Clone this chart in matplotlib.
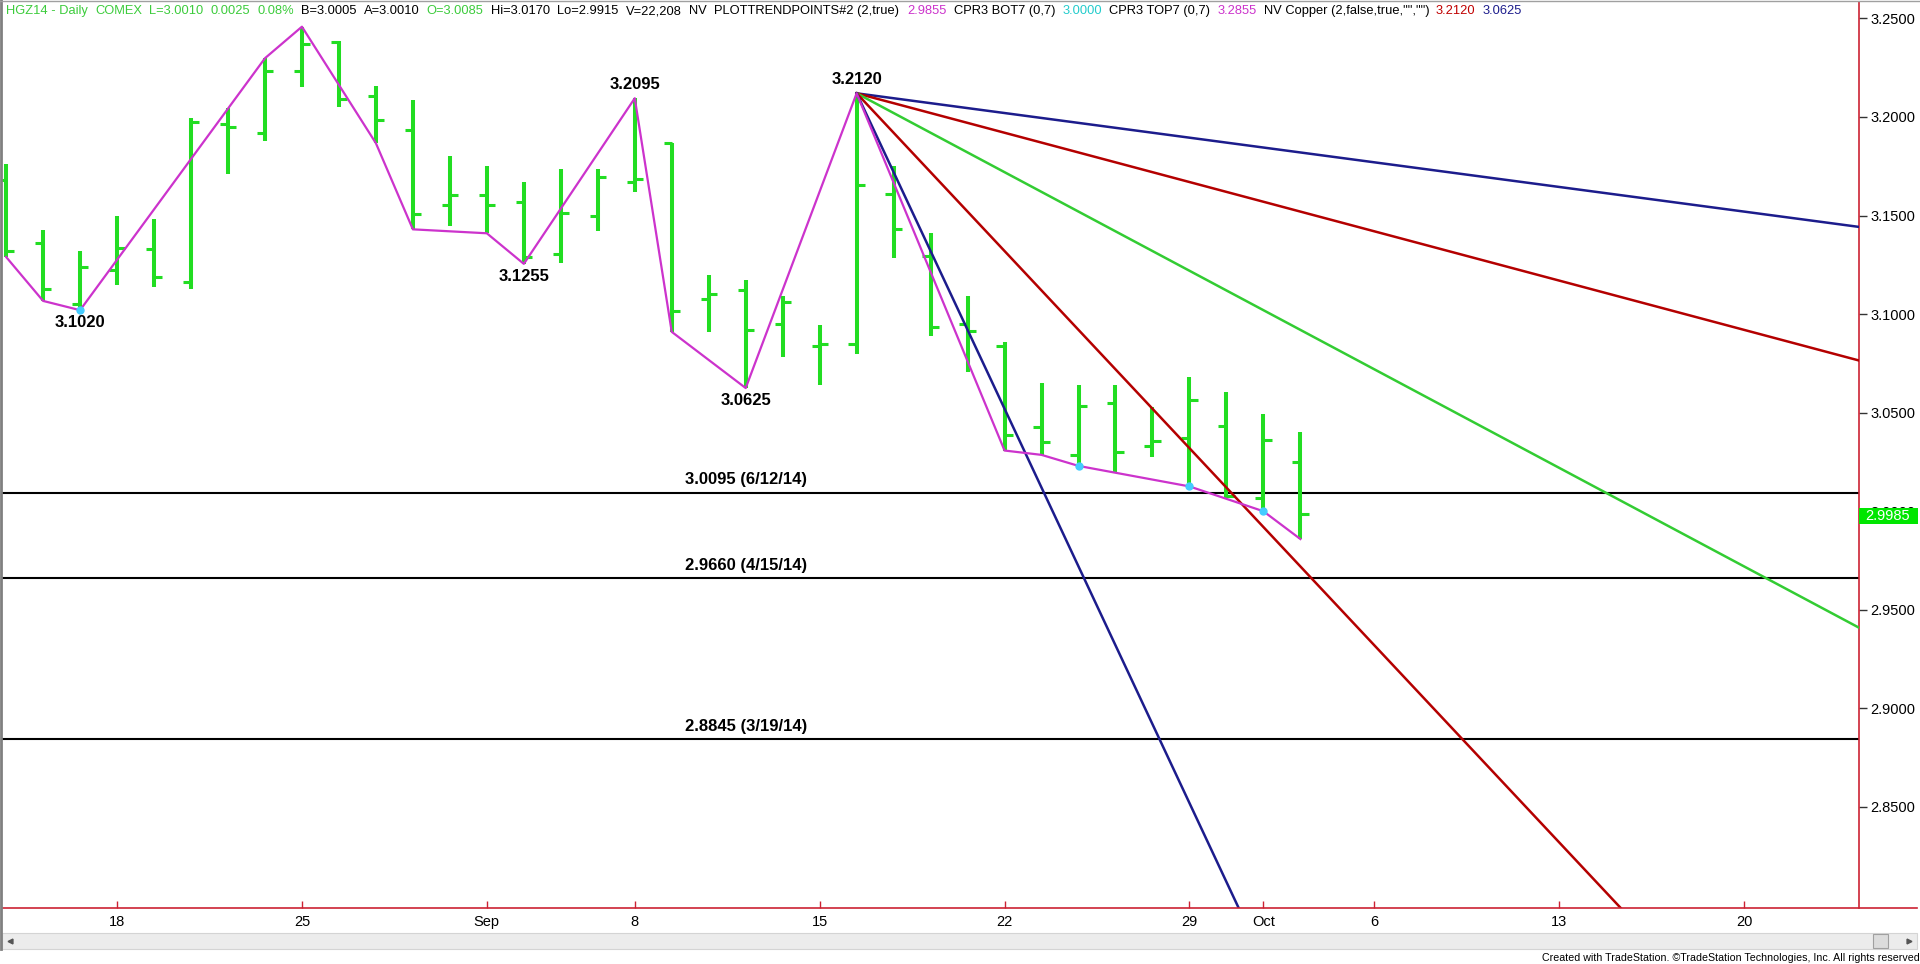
import matplotlib
matplotlib.use('Agg')
import matplotlib.pyplot as plt
from matplotlib.patches import Rectangle
from matplotlib.lines import Line2D
from matplotlib import font_manager

plt.rcParams['font.family'] = ['Liberation Sans', 'DejaVu Sans']

W, H = 1920, 964

# daily bars, Aug 13 .. Oct 2 (index = trading day)
bar_idx = list(range(36))
opens = [3.168, 3.136, 3.105, 3.1223, 3.133, 3.1164, 3.1963, 3.192, 3.2233, 3.2382,
         3.2108, 3.1934, 3.1553, 3.1605, 3.1568, 3.1305, 3.1498, 3.1672, 3.1869, 3.1075,
         3.112, 3.0948, 3.084, 3.0846, 3.161, 3.1296, 3.095, 3.0838, 3.0427, 3.0286,
         3.0549, 3.0332, 3.0374, 3.0433, 3.0067, 3.025]
highs = [3.176, 3.1426, 3.132, 3.1497, 3.148, 3.1993, 3.2044, 3.2298, 3.2458, 3.2387,
         3.2157, 3.2086, 3.1802, 3.1751, 3.1669, 3.1735, 3.1735, 3.2095, 3.1869, 3.1197,
         3.1172, 3.1092, 3.0943, 3.2120, 3.175, 3.141, 3.1092, 3.086, 3.065, 3.0641,
         3.0641, 3.0531, 3.068, 3.0604, 3.0493, 3.0402]
lows = [3.129, 3.1067, 3.1020, 3.115, 3.1135, 3.1125, 3.171, 3.1878, 3.215, 3.2049,
        3.1867, 3.143, 3.1447, 3.141, 3.1255, 3.126, 3.1422, 3.1618, 3.091, 3.091,
        3.0625, 3.0781, 3.0639, 3.0798, 3.1287, 3.0888, 3.0704, 3.0308, 3.0286, 3.023,
        3.0197, 3.0275, 3.0126, 3.0067, 3.000, 2.9859]
closes = [3.132, 3.1127, 3.124, 3.1333, 3.1186, 3.1973, 3.1948, 3.2233, 3.237, 3.209,
          3.1985, 3.1508, 3.1604, 3.1554, 3.129, 3.1515, 3.1694, 3.1685, 3.1016, 3.110,
          3.0917, 3.1063, 3.0846, 3.1656, 3.1432, 3.0934, 3.0915, 3.0388, 3.035, 3.0535,
          3.030, 3.0354, 3.0565, 3.0075, 3.0363, 2.9985]

# swing line
zz_idx = [0, 1, 2, 7, 8, 10, 11, 13, 14, 17, 18, 20, 23, 27, 28, 29, 32, 34, 35]
zz_price = [3.129, 3.1067, 3.1020, 3.2298, 3.2458, 3.1867, 3.143, 3.141, 3.1255, 3.2095,
            3.091, 3.0625, 3.2120, 3.0308, 3.0286, 3.023, 3.0126, 3.000, 2.9859]
dot_idx = [2, 29, 32, 34]
dot_price = [3.1020, 3.023, 3.0126, 3.000]

pivot_idx = [2, 14, 17, 20, 23]
pivot_price = [3.1020, 3.1255, 3.2095, 3.0625, 3.2120]
pivot_up = [False, False, True, False, True]

level_price = [3.0095, 2.9660, 2.8845]
level_label = ['3.0095 (6/12/14)', '2.9660 (4/15/14)', '2.8845 (3/19/14)']
level_label_idx = 20

# angle lines out of the Sep 16 top (price change per bar)
fan_start_idx = 23
fan_start_price = 3.2120
fan_slopes = [-0.0025, -0.005, -0.01, -0.02, -0.04]
fan_colors = ['#1c1c8c', '#b40000', '#33cc33', '#b40000', '#1c1c8c']

xtick_idx = [3, 8, 13, 17, 22, 27, 32, 34, 37, 42, 47]
xtick_lab = ['18', '25', 'Sep', '8', '15', '22', '29', 'Oct', '6', '13', '20']
yticks = [2.85, 2.90, 2.95, 3.00, 3.05, 3.10, 3.15, 3.20, 3.25]
last_price = 2.9985

hdr_text = ['HGZ14 - Daily', 'COMEX', 'L=3.0010', '0.0025', '0.08%', 'B=3.0005', 'A=3.0010',
            'O=3.0085', 'Hi=3.0170', 'Lo=2.9915', 'V=22,208', 'NV', 'PLOTTRENDPOINTS#2 (2,true)',
            '2.9855', 'CPR3 BOT7 (0,7)', '3.0000', 'CPR3 TOP7 (0,7)', '3.2855',
            'NV Copper (2,false,true,"","")', '3.2120', '3.0625']
hdr_color = ['#3ccc3c'] * 5 + ['black', 'black', '#3ccc3c'] + ['black'] * 5 + \
            ['#cc33cc', 'black', '#22cccc', 'black', '#cc33cc', 'black', '#c00000', '#1c1c8c']
footer = 'Created with TradeStation. \u00a9TradeStation Technologies, Inc. All rights reserved.'

BAR_GREEN = '#22dd22'
AXIS_RED = '#cc2233'

installed = {f.name for f in font_manager.fontManager.ttflist}
narrow = 'Liberation Sans Narrow' if 'Liberation Sans Narrow' in installed else 'Liberation Sans'


def fx(px):
    return px / W


def fy(py):
    return 1 - py / H


def fit_row(fig, texts, colors, x0, x1, y, gap, size):
    # lay text pieces out one after another, shrink the font until the row fits
    rend = fig.canvas.get_renderer()
    arts = [fig.text(0, fy(y), t, color=c, fontsize=size, family=narrow, ha='left', va='center')
            for t, c in zip(texts, colors)]
    widths = [a.get_window_extent(rend).width for a in arts]
    room = (x1 - x0) - gap * (len(texts) - 1)
    k = min(1.0, room / sum(widths))
    x = x0
    for a, w in zip(arts, widths):
        a.set_fontsize(size * k)
        a.set_x(fx(x))
        x += w * k + gap


fig = plt.figure(figsize=(19.2, 9.64), dpi=100)
fig.patch.set_facecolor('white')

ax = fig.add_axes([fx(2), fy(908), fx(1859) - fx(2), fy(2) - fy(908)])
ax.set_xlim(-0.111, 50.106)
ax.set_ylim(2.79875, 3.25832)

# horizontal levels
for p, lab in zip(level_price, level_label):
    ax.axhline(p, color='black', lw=1.5, zorder=2)
    ax.annotate(lab, (level_label_idx, p), xytext=(0, 9.2), textcoords='offset points',
                ha='center', va='center', fontsize=12, fontweight='bold')

# OHLC bars
tk = 0.22
ax.vlines(bar_idx, lows, highs, color=BAR_GREEN, lw=2.9, zorder=3)
ax.hlines(opens, [i - tk for i in bar_idx], bar_idx, color=BAR_GREEN, lw=2.2, zorder=3)
ax.hlines(closes, bar_idx, [i + tk for i in bar_idx], color=BAR_GREEN, lw=2.2, zorder=3)

# fan lines
x_end = 51
for s, c in zip(fan_slopes, fan_colors):
    ax.plot([fan_start_idx, x_end], [fan_start_price, fan_start_price + s * (x_end - fan_start_idx)],
            color=c, lw=1.8, zorder=4)

ax.plot(zz_idx, zz_price, color='#cc33cc', lw=1.6, zorder=5)
ax.plot(dot_idx, dot_price, 'o', color='#44ccff', markersize=5, zorder=6)

for i, p, up in zip(pivot_idx, pivot_price, pivot_up):
    off = 10 if up else -9
    ax.annotate('%.4f' % p, (i, p), xytext=(0, off), textcoords='offset points',
                ha='center', va='center', fontsize=12, fontweight='bold')

# axes cosmetics
for side in ['left', 'top', 'bottom']:
    ax.spines[side].set_visible(False)
ax.spines['right'].set_color(AXIS_RED)
ax.spines['right'].set_linewidth(1.2)
ax.yaxis.tick_right()
ax.set_yticks(yticks)
ax.set_yticklabels(['%.4f' % v for v in yticks])
ax.tick_params(axis='y', direction='out', length=6, width=1, color='#333333', pad=2,
               labelsize=10.5)
ax.set_xticks(xtick_idx)
ax.set_xticklabels(xtick_lab)
ax.tick_params(axis='x', direction='in', length=5, width=1, color=AXIS_RED, pad=5,
               labelsize=10.5)

# bottom axis line runs to the right border
fig.add_artist(Line2D([fx(2), fx(1917)], [fy(908), fy(908)], color=AXIS_RED, lw=1.2))

# last price box
fig.add_artist(Rectangle((fx(1859), fy(524)), fx(1918) - fx(1859), fy(508) - fy(524),
                         facecolor='#00e600', edgecolor='none', zorder=10))
fig.text(fx(1888), fy(516), '%.4f' % last_price, color='white', fontsize=10.5,
         ha='center', va='center', zorder=11)

# header line
fit_row(fig, hdr_text, hdr_color, 6, 1522, 11, 7, 9.5)

# window frame and scrollbar
fig.add_artist(Line2D([fx(1), fx(1)], [fy(0), fy(949)], color='#808080', lw=2))
fig.add_artist(Line2D([fx(0), fx(1920)], [fy(0.5), fy(0.5)], color='#a0a0a0', lw=1))
fig.add_artist(Rectangle((fx(2), fy(949)), fx(1917) - fx(2), fy(933) - fy(949),
                         facecolor='#ececec', edgecolor='#d4d4d4', lw=0.8))
fig.add_artist(Rectangle((fx(1873), fy(948)), fx(1888) - fx(1873), fy(934) - fy(948),
                         facecolor='#dcdcdc', edgecolor='#a0a0a0', lw=0.8))
fig.add_artist(Line2D([fx(10)], [fy(941)], marker='<', color='#555555', markersize=3.5))
fig.add_artist(Line2D([fx(1909)], [fy(941)], marker='>', color='#555555', markersize=3.5))

fit_row(fig, [footer], ['black'], 1542, 1918, 958, 0, 9.5)

fig.savefig('out.png', dpi=100)
